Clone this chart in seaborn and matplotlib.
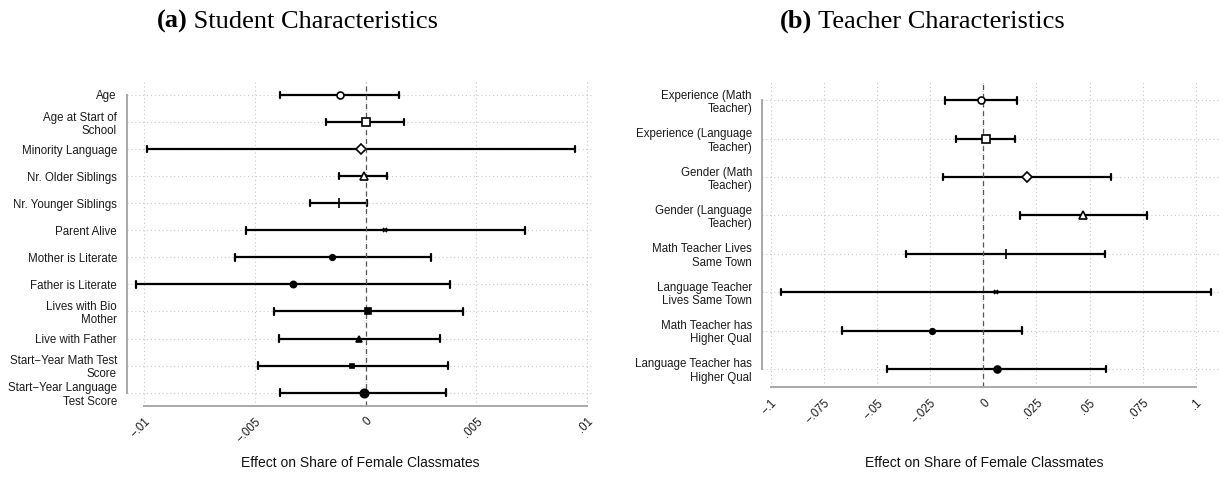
import numpy as np
import pandas as pd
import matplotlib
matplotlib.use("Agg")
import matplotlib.pyplot as plt
import seaborn as sns

# (a) student characteristics: point estimate and 95% CI
student_labels = [
    "Age",
    "Age at Start of\nSchool",
    "Minority Language",
    "Nr. Older Siblings",
    "Nr. Younger Siblings",
    "Parent Alive",
    "Mother is Literate",
    "Father is Literate",
    "Lives with Bio\nMother",
    "Live with Father",
    "Start\u2212Year Math Test\nScore",
    "Start\u2212Year Language\nTest Score",
]
student_est = [-0.00117, 0.0, -0.0002, -0.0001, -0.00122, 0.00087,
               -0.00151, -0.00328, 0.00012, -0.00029, -0.0006, -0.0001]
student_lo = [-0.00387, -0.00181, -0.00986, -0.00119, -0.0025, -0.00542,
              -0.0059, -0.01039, -0.00414, -0.0039, -0.00488, -0.00387]
student_hi = [0.00152, 0.00174, 0.00944, 0.00098, 0.00006, 0.00718,
              0.00294, 0.0038, 0.0044, 0.00334, 0.00372, 0.00363]
student_ticks = [-0.01, -0.005, 0, 0.005, 0.01]
student_ticklabels = ["\u2212.01", "\u2212.005", "0", ".005", ".01"]

# (b) teacher characteristics
teacher_labels = [
    "Experience (Math\nTeacher)",
    "Experience (Language\nTeacher)",
    "Gender (Math\nTeacher)",
    "Gender (Language\nTeacher)",
    "Math Teacher Lives\nSame Town",
    "Language Teacher\nLives Same Town",
    "Math Teacher has\nHigher Qual",
    "Language Teacher has\nHigher Qual",
]
teacher_est = [-0.0012, 0.0011, 0.0206, 0.0471, 0.0105, 0.006, -0.0242, 0.0063]
teacher_lo = [-0.0182, -0.0129, -0.0188, 0.0173, -0.0365, -0.095, -0.0664, -0.0454]
teacher_hi = [0.0157, 0.0151, 0.06, 0.0772, 0.0574, 0.1072, 0.0182, 0.0578]
teacher_ticks = [-0.1, -0.075, -0.05, -0.025, 0, 0.025, 0.05, 0.075, 0.1]
teacher_ticklabels = ["\u2212.1", "\u2212.075", "\u2212.05", "\u2212.025", "0",
                      ".025", ".05", ".075", ".1"]

# marker style per row: (marker, hollow, size)
student_markers = [("o", True, 5), ("s", True, 5.5), ("D", True, 5), ("^", True, 5.5),
                   ("|", False, 7), ("x", False, 3), ("o", False, 4), ("o", False, 4.5),
                   ("s", False, 5), ("^", False, 5), ("s", False, 3), ("o", False, 6)]
teacher_markers = [("o", True, 5), ("s", True, 5.5), ("D", True, 5), ("^", True, 5.5),
                   ("|", False, 7), ("x", False, 3), ("o", False, 4), ("o", False, 5)]

GRAY = "#a8a8a8"


def draw_panel(ax, labels, est, lo, hi, markers, ticks, ticklabels, xlim, capsize, xlab_coords):
    n = len(labels)
    df = pd.DataFrame({
        "label": np.repeat(labels, 3),
        "value": np.column_stack([lo, est, hi]).ravel(),
    })
    # median of (lo, est, hi) is the estimate, full range is the CI
    sns.pointplot(data=df, x="value", y="label", hue="label",
                  order=labels, hue_order=labels,
                  estimator="median", errorbar=("pi", 100),
                  markers=[m[0] for m in markers], linestyle="none",
                  palette=["black"] * n, capsize=capsize,
                  err_kws={"linewidth": 1.6}, legend=False, ax=ax)

    mlines = [l for l in ax.lines if l.get_marker() not in ("None", None, "", " ")]
    for line, (mk, hollow, size) in zip(mlines, markers):
        line.set_markersize(size)
        line.set_markeredgewidth(1.2)
        line.set_markeredgecolor("black")
        line.set_markerfacecolor("white" if hollow else "black")
        line.set_zorder(5)

    ax.axvline(0, color="#555555", ls=(0, (4, 3)), lw=0.9, zorder=2)

    ax.set_xlim(xlim)
    ax.set_ylim(n - 1 + 0.48, -0.48)
    ax.set_xticks(ticks)
    ax.set_xticklabels(ticklabels, rotation=45, ha="right", va="top",
                       rotation_mode="anchor")
    ax.grid(True, ls=(0, (1, 2.5)), color="#c8c8c8", lw=0.8)
    ax.set_axisbelow(True)

    for side in ["top", "right"]:
        ax.spines[side].set_visible(False)
    ax.spines["left"].set_bounds(0, n - 1)
    ax.spines["bottom"].set_bounds(ticks[0], ticks[-1])
    for side in ["left", "bottom"]:
        ax.spines[side].set_color(GRAY)
        ax.spines[side].set_linewidth(1.4)

    ax.tick_params(axis="both", color=GRAY, length=4.5, width=1.2,
                   labelsize=8.3, labelcolor="#1a1a1a", pad=2.5)
    for t in ax.get_yticklabels():
        t.set_linespacing(1.15)

    ax.set_ylabel("")
    ax.set_xlabel("Effect on Share of Female Classmates", fontsize=10, color="#111111")
    ax.xaxis.set_label_coords(*xlab_coords)
    ax.xaxis.label.set_va("center")


sns.set_style("white")
plt.rcParams["font.family"] = ["Liberation Sans", "DejaVu Sans"]

fig = plt.figure(figsize=(12.24, 4.78), dpi=100)
ax1 = fig.add_axes([0.1035, 0.1513, 0.381, 0.6772])
ax2 = fig.add_axes([0.6223, 0.1897, 0.3744, 0.6387])

draw_panel(ax1, student_labels, student_est, student_lo, student_hi, student_markers,
           student_ticks, student_ticklabels, (-0.0108, 0.01027), 0.24, (0.5, -0.177))
draw_panel(ax2, teacher_labels, teacher_est, teacher_lo, teacher_hi, teacher_markers,
           teacher_ticks, teacher_ticklabels, (-0.1043, 0.1114), 0.17, (0.485, -0.248))

# panel titles: bold "(a)" followed by regular text
for x, tag, rest in [(0.128, "(a)", " Student Characteristics"),
                     (0.637, "(b)", " Teacher Characteristics")]:
    t = fig.text(x, 0.93, tag, fontsize=19, fontweight="bold", color="black",
                 family="Liberation Serif", va="bottom", ha="left")
    fig.add_artist(matplotlib.text.Annotation(
        rest, xy=(1, 0), xycoords=t, va="bottom", ha="left", color="black",
        fontsize=19, family="Liberation Serif"))

fig.savefig("out.png", dpi=100)
